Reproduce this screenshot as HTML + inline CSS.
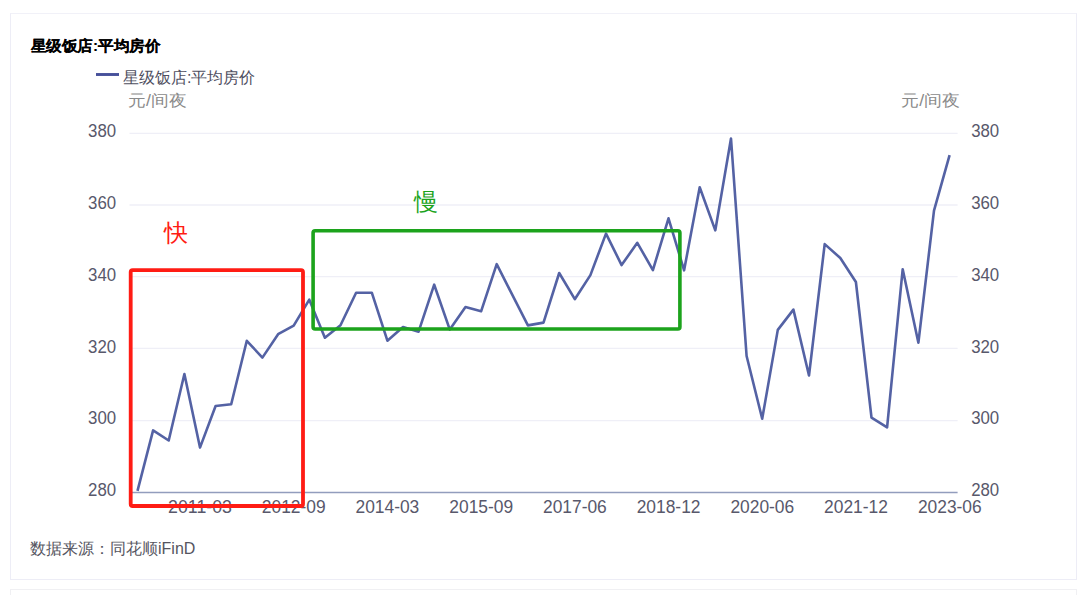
<!DOCTYPE html>
<html><head><meta charset="utf-8"><style>
html,body{margin:0;padding:0;background:#fff;width:1080px;height:595px;overflow:hidden}
body{font-family:"Liberation Sans",sans-serif;position:relative}
.card{position:absolute;left:10px;top:12.5px;width:1065px;height:565px;border:1px solid #ededf6;border-top-color:#f1f1f8;background:#fff}
.card2{position:absolute;left:10px;top:589px;width:1065px;height:40px;border:1px solid #f0f0f3;background:#fff}
svg{position:absolute;left:0;top:0}
</style></head><body>
<div class="card"></div>
<div class="card2"></div>
<svg width="1080" height="595" viewBox="0 0 1080 595" font-family="Liberation Sans, sans-serif">
<line x1="129.5" y1="133.4" x2="957.6" y2="133.4" stroke="#efeff7" stroke-width="1.3"/>
<line x1="129.5" y1="205.0" x2="957.6" y2="205.0" stroke="#efeff7" stroke-width="1.3"/>
<line x1="129.5" y1="276.7" x2="957.6" y2="276.7" stroke="#efeff7" stroke-width="1.3"/>
<line x1="129.5" y1="348.4" x2="957.6" y2="348.4" stroke="#efeff7" stroke-width="1.3"/>
<line x1="129.5" y1="420.7" x2="957.6" y2="420.7" stroke="#efeff7" stroke-width="1.3"/>
<line x1="129.5" y1="492.5" x2="957.6" y2="492.5" stroke="#929dbd" stroke-width="1.6"/>
<text x="30.6" y="50.9" font-size="14.6" font-weight="bold" fill="#000" stroke="#000" stroke-width="0.12" textLength="130" lengthAdjust="spacingAndGlyphs">星级饭店:平均房价</text>
<line x1="96" y1="74.5" x2="119" y2="74.5" stroke="#46509a" stroke-width="2.9"/>
<text x="123" y="82.5" font-size="16" fill="#4f4f5f">星级饭店:平均房价</text>
<text x="128.3" y="106" font-size="16" fill="#8a8a8a" textLength="58.2" lengthAdjust="spacingAndGlyphs">元/间夜</text>
<text x="901.4" y="106" font-size="16" fill="#8a8a8a" textLength="58.6" lengthAdjust="spacingAndGlyphs">元/间夜</text>
<text x="116.17" y="137.10" font-size="18.3" fill="#58586b" text-anchor="end" textLength="28.08" lengthAdjust="spacingAndGlyphs">380</text>
<text x="971.13" y="137.10" font-size="18.3" fill="#58586b" textLength="28.08" lengthAdjust="spacingAndGlyphs">380</text>
<text x="116.17" y="208.90" font-size="18.3" fill="#58586b" text-anchor="end" textLength="28.08" lengthAdjust="spacingAndGlyphs">360</text>
<text x="971.13" y="208.90" font-size="18.3" fill="#58586b" textLength="28.08" lengthAdjust="spacingAndGlyphs">360</text>
<text x="116.17" y="280.70" font-size="18.3" fill="#58586b" text-anchor="end" textLength="28.08" lengthAdjust="spacingAndGlyphs">340</text>
<text x="971.13" y="280.70" font-size="18.3" fill="#58586b" textLength="28.08" lengthAdjust="spacingAndGlyphs">340</text>
<text x="116.17" y="352.50" font-size="18.3" fill="#58586b" text-anchor="end" textLength="28.08" lengthAdjust="spacingAndGlyphs">320</text>
<text x="971.13" y="352.50" font-size="18.3" fill="#58586b" textLength="28.08" lengthAdjust="spacingAndGlyphs">320</text>
<text x="116.17" y="424.30" font-size="18.3" fill="#58586b" text-anchor="end" textLength="28.08" lengthAdjust="spacingAndGlyphs">300</text>
<text x="971.13" y="424.30" font-size="18.3" fill="#58586b" textLength="28.08" lengthAdjust="spacingAndGlyphs">300</text>
<text x="116.17" y="496.10" font-size="18.3" fill="#58586b" text-anchor="end" textLength="28.08" lengthAdjust="spacingAndGlyphs">280</text>
<text x="971.13" y="496.10" font-size="18.3" fill="#58586b" textLength="28.08" lengthAdjust="spacingAndGlyphs">280</text>
<text x="200.0" y="513.3" font-size="18.3" fill="#58586b" text-anchor="middle" textLength="63.79" lengthAdjust="spacingAndGlyphs">2011-03</text>
<text x="293.7" y="513.3" font-size="18.3" fill="#58586b" text-anchor="middle" textLength="63.79" lengthAdjust="spacingAndGlyphs">2012-09</text>
<text x="387.4" y="513.3" font-size="18.3" fill="#58586b" text-anchor="middle" textLength="63.79" lengthAdjust="spacingAndGlyphs">2014-03</text>
<text x="481.2" y="513.3" font-size="18.3" fill="#58586b" text-anchor="middle" textLength="63.79" lengthAdjust="spacingAndGlyphs">2015-09</text>
<text x="574.9" y="513.3" font-size="18.3" fill="#58586b" text-anchor="middle" textLength="63.79" lengthAdjust="spacingAndGlyphs">2017-06</text>
<text x="668.6" y="513.3" font-size="18.3" fill="#58586b" text-anchor="middle" textLength="63.79" lengthAdjust="spacingAndGlyphs">2018-12</text>
<text x="762.3" y="513.3" font-size="18.3" fill="#58586b" text-anchor="middle" textLength="63.79" lengthAdjust="spacingAndGlyphs">2020-06</text>
<text x="856.0" y="513.3" font-size="18.3" fill="#58586b" text-anchor="middle" textLength="63.79" lengthAdjust="spacingAndGlyphs">2021-12</text>
<text x="949.8" y="513.3" font-size="18.3" fill="#58586b" text-anchor="middle" textLength="63.79" lengthAdjust="spacingAndGlyphs">2023-06</text>
<path d="M137.5,490.9 L153.1,430.4 L168.7,440.5 L184.4,374.0 L200.0,447.6 L215.6,406.0 L231.2,404.2 L246.8,340.8 L262.4,357.6 L278.1,334.2 L293.7,325.7 L309.3,299.7 L324.9,337.7 L340.5,325.2 L356.1,292.7 L371.8,292.7 L387.4,340.7 L403.0,327.0 L418.6,331.7 L434.2,284.7 L449.8,329.6 L465.5,307.1 L481.1,311.3 L496.7,264.2 L527.9,325.4 L543.5,322.6 L559.2,273.0 L574.8,299.2 L590.4,275.1 L606.0,233.6 L621.6,265.1 L637.3,242.8 L652.9,270.1 L668.5,218.3 L684.1,270.3 L699.7,187.2 L715.3,230.4 L731.0,138.5 L746.6,356.0 L762.2,418.8 L777.8,329.9 L793.4,309.6 L809.0,375.5 L824.7,244.1 L840.3,258.0 L855.9,282.0 L871.5,417.6 L887.1,427.4 L902.7,269.2 L918.4,342.7 L934.0,210.6 L949.6,155.2" fill="none" stroke="#5462a4" stroke-width="2.6" stroke-linejoin="round"/>
<rect x="130.7" y="270.1" width="172.3" height="235.9" fill="none" stroke="#ff1c14" stroke-width="3.8" rx="2"/>
<rect x="313.1" y="230.7" width="366.8" height="98.3" fill="none" stroke="#1ca31c" stroke-width="3.6" rx="2"/>
<text x="164" y="241.4" font-size="24" fill="#ff1c14">快</text>
<text x="413.5" y="209.5" font-size="24" fill="#1ca31c">慢</text>
<text x="30" y="554" font-size="16" fill="#555560">数据来源：同花顺iFinD</text>
</svg>
</body></html>
